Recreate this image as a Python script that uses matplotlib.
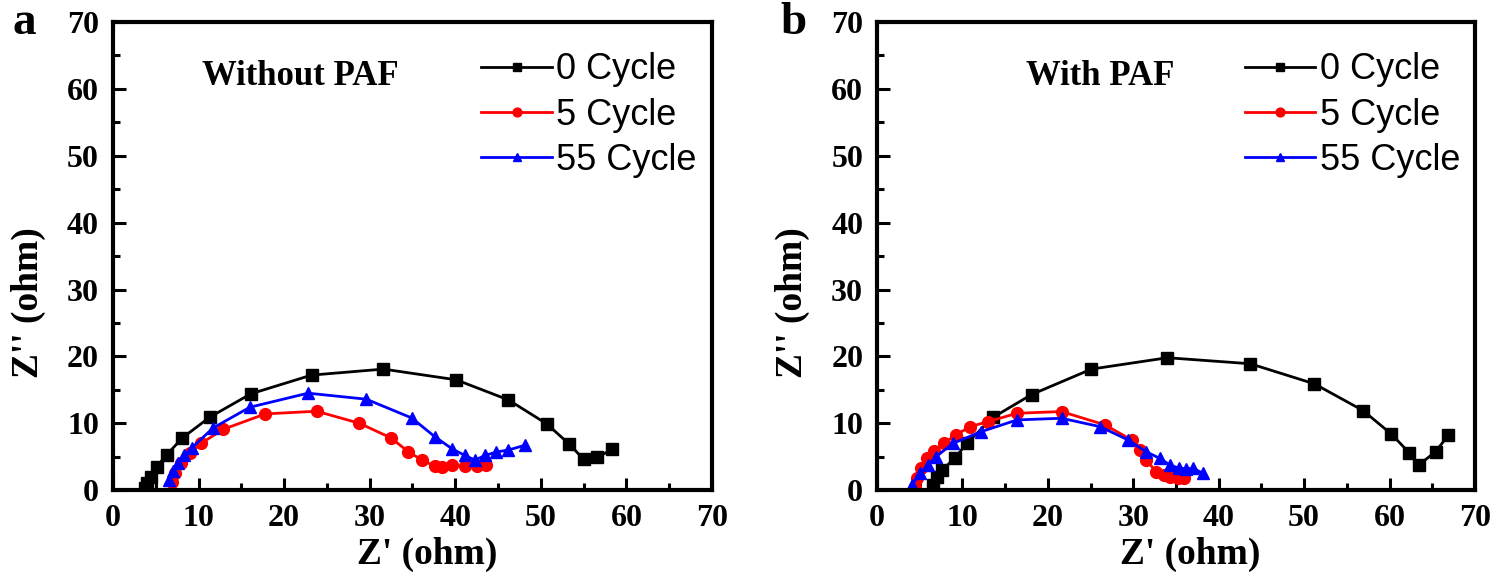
import matplotlib
matplotlib.use("Agg")
import matplotlib.pyplot as plt
from matplotlib.ticker import MultipleLocator

# panel a - without PAF
a_x0 = [3.7, 4.0, 4.5, 5.1, 6.3, 8.1, 11.3, 16.1, 23.2, 31.6, 40.1, 46.2, 50.7, 53.3, 55.0, 56.6, 58.3]
a_y0 = [0.3, 1.0, 2.0, 3.5, 5.3, 7.8, 10.9, 14.4, 17.2, 18.1, 16.5, 13.5, 9.9, 6.9, 4.6, 4.9, 6.1]
a_x5 = [6.9, 7.3, 8.0, 9.0, 10.3, 12.9, 17.8, 23.8, 28.8, 32.5, 34.5, 36.1, 37.6, 38.5, 39.6, 41.1, 42.5, 43.6]
a_y5 = [1.25, 2.5, 4.0, 5.5, 7.0, 9.1, 11.4, 11.8, 10.0, 7.8, 5.75, 4.5, 3.6, 3.4, 3.7, 3.6, 3.6, 3.8]
a_x55 = [6.5, 7.0, 7.6, 8.3, 9.2, 11.7, 16.0, 22.8, 29.6, 34.9, 37.6, 39.6, 41.1, 42.3, 43.5, 44.8, 46.2, 48.1]
a_y55 = [1.5, 2.8, 4.0, 5.2, 6.3, 9.3, 12.4, 14.5, 13.6, 10.8, 8.0, 6.2, 5.2, 4.5, 5.2, 5.7, 6.0, 6.7]

# panel b - with PAF
b_x0 = [6.6, 7.0, 7.6, 9.1, 10.5, 13.6, 18.1, 25.1, 34.0, 43.7, 51.2, 56.9, 60.2, 62.3, 63.4, 65.4, 66.9]
b_y0 = [0.8, 2.0, 3.0, 4.75, 7.0, 10.9, 14.3, 18.1, 19.8, 18.9, 15.9, 11.9, 8.4, 5.6, 3.75, 5.75, 8.25]
b_x5 = [4.45, 4.65, 5.2, 5.8, 6.7, 7.8, 9.3, 10.9, 13.0, 16.4, 21.6, 26.7, 29.8, 30.8, 31.5, 32.7, 33.6, 34.3, 35.2, 35.9]
b_y5 = [0.5, 1.75, 3.3, 4.75, 5.9, 7.0, 8.3, 9.5, 10.25, 11.5, 11.75, 9.75, 7.5, 6.0, 4.5, 2.75, 2.3, 2.0, 1.8, 1.75]
b_x55 = [4.1, 5.0, 6.0, 6.9, 8.9, 12.2, 16.4, 21.6, 26.1, 29.4, 31.5, 33.1, 34.3, 35.3, 36.2, 37.0, 38.2]
b_y55 = [0.75, 2.5, 3.8, 5.0, 7.0, 8.75, 10.5, 10.75, 9.5, 7.5, 5.75, 4.75, 3.75, 3.3, 3.2, 3.25, 2.5]

labels = ["0 Cycle", "5 Cycle", "55 Cycle"]
titles = ["Without PAF", "With PAF"]
panels = ["a", "b"]

serif = "Liberation Serif"
sans = "Liberation Sans"

fig = plt.figure(figsize=(15, 5.87), dpi=100)
ax_a = fig.add_axes([0.0753, 0.165, 0.3994, 0.7975])
ax_b = fig.add_axes([0.5847, 0.165, 0.3986, 0.7975])

data = [
    [(a_x0, a_y0), (a_x5, a_y5), (a_x55, a_y55)],
    [(b_x0, b_y0), (b_x5, b_y5), (b_x55, b_y55)],
]
styles = [("black", "s"), ("red", "o"), ("blue", "^")]

for i, ax in enumerate([ax_a, ax_b]):
    for (xs, ys), (c, m), lab in zip(data[i], styles, labels):
        ax.plot(xs, ys, color=c, marker=m, markersize=8.5, linewidth=2, label=lab)
    ax.set_xlim(0, 70)
    ax.set_ylim(0, 70)
    ax.xaxis.set_major_locator(MultipleLocator(10))
    ax.xaxis.set_minor_locator(MultipleLocator(5))
    ax.yaxis.set_major_locator(MultipleLocator(10))
    ax.yaxis.set_minor_locator(MultipleLocator(5))
    ax.tick_params(which="both", direction="in", top=False, right=False, width=2.2)
    ax.tick_params(which="major", length=9, pad=10)
    ax.tick_params(which="minor", length=5)
    for sp in ax.spines.values():
        sp.set_linewidth(3)
    for t in ax.get_xticklabels() + ax.get_yticklabels():
        t.set_fontfamily(serif)
        t.set_fontweight("bold")
        t.set_fontsize(23)
    ax.set_xlabel("Z' (ohm)", fontfamily=serif, fontweight="bold", fontsize=27)
    ax.set_ylabel("Z'' (ohm)", fontfamily=serif, fontweight="bold", fontsize=27)
    ax.xaxis.set_label_coords(0.524, -0.1)
    ax.yaxis.set_label_coords(-0.112, 0.4)
    ax.text(0.312 if i == 0 else 0.373, 0.883, titles[i], transform=ax.transAxes,
            ha="center", va="center", fontfamily=serif, fontweight="bold", fontsize=25)
    ax.legend(loc="upper left", bbox_to_anchor=(0.615, 0.935), frameon=False,
              prop={"family": sans, "size": 26}, handlelength=1.95, handletextpad=0.12,
              labelspacing=0.28, borderpad=0, borderaxespad=0, markerscale=0.75)
    fig.text(0.008 if i == 0 else 0.52, 0.96, panels[i], fontfamily=serif,
             fontweight="bold", fontsize=34, ha="left", va="center")

fig.savefig("out.png", dpi=100)
